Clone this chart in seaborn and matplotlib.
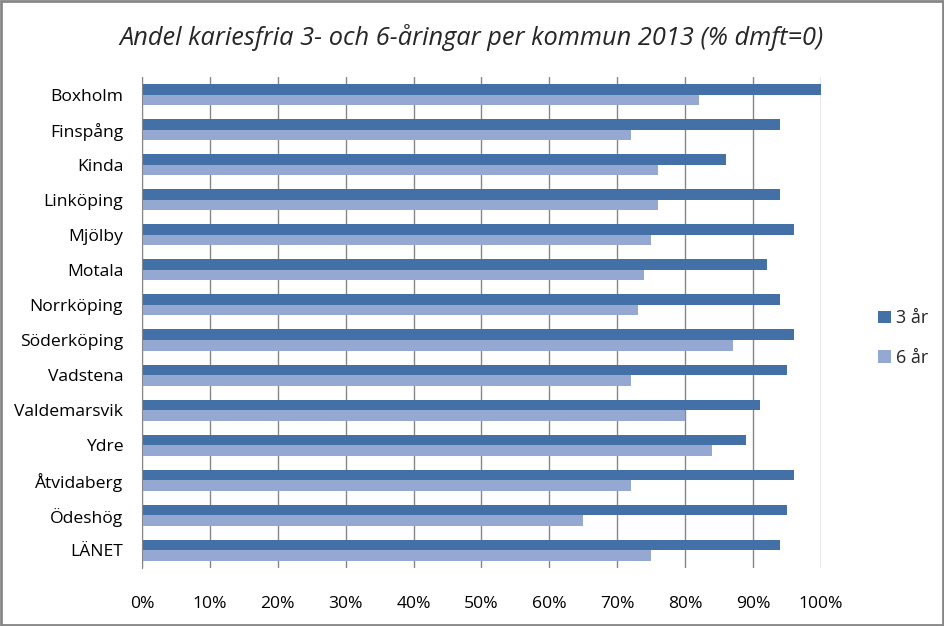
import pandas as pd
import matplotlib.pyplot as plt
import seaborn as sns
from matplotlib.patches import Rectangle
from matplotlib.ticker import PercentFormatter

kommuner = ["Boxholm", "Finspång", "Kinda", "Linköping", "Mjölby", "Motala",
            "Norrköping", "Söderköping", "Vadstena", "Valdemarsvik", "Ydre",
            "Åtvidaberg", "Ödeshög", "LÄNET"]
ar3 = [100, 94, 86, 94, 96, 92, 94, 96, 95, 91, 89, 96, 95, 94]
ar6 = [82, 72, 76, 76, 75, 74, 73, 87, 72, 80, 84, 72, 65, 75]
serier = ["3 år", "6 år"]

df = pd.DataFrame({
    "kommun": kommuner * 2,
    "andel": ar3 + ar6,
    "alder": [serier[0]] * len(kommuner) + [serier[1]] * len(kommuner),
})

sns.set_style("white")
plt.rcParams["font.family"] = ["Open Sans", "DejaVu Sans"]

fig = plt.figure(figsize=(9.44, 6.26), dpi=100)
ax = fig.add_axes([0.1504, 0.0927, 0.7193, 0.7843])

sns.barplot(data=df, y="kommun", x="andel", hue="alder", orient="h",
            palette=["#4470A8", "#94A8D2"], width=0.6, saturation=1,
            linewidth=0, ax=ax)

ax.set_xlim(0, 100)
ax.set_xticks(range(0, 101, 10))
ax.xaxis.set_major_formatter(PercentFormatter(decimals=0))
ax.grid(axis="x", color="#868686", linewidth=1)
ax.set_axisbelow(True)
for s in ["top", "right", "bottom"]:
    ax.spines[s].set_visible(False)
ax.spines["left"].set_color("#868686")
ax.set_xlabel("")
ax.set_ylabel("")
ax.tick_params(axis="both", labelsize=12.6, length=0, colors="black")
ax.tick_params(axis="x", pad=20)
ax.tick_params(axis="y", pad=13.5)

ax.legend(loc="center left", bbox_to_anchor=(1.06, 0.468), frameon=False,
          fontsize=13, handlelength=0.7, handleheight=0.7, handletextpad=0.3,
          labelspacing=1.2)

fig.text(0.5, 0.94, "Andel kariesfria 3- och 6-åringar per kommun 2013 (% dmft=0)",
         ha="center", va="center", fontsize=18.3, style="italic")

fig.add_artist(Rectangle((0.001, 0.001), 0.998, 0.997, transform=fig.transFigure,
                         fill=False, edgecolor="#868686", linewidth=2))

fig.savefig("out.png", dpi=100)
